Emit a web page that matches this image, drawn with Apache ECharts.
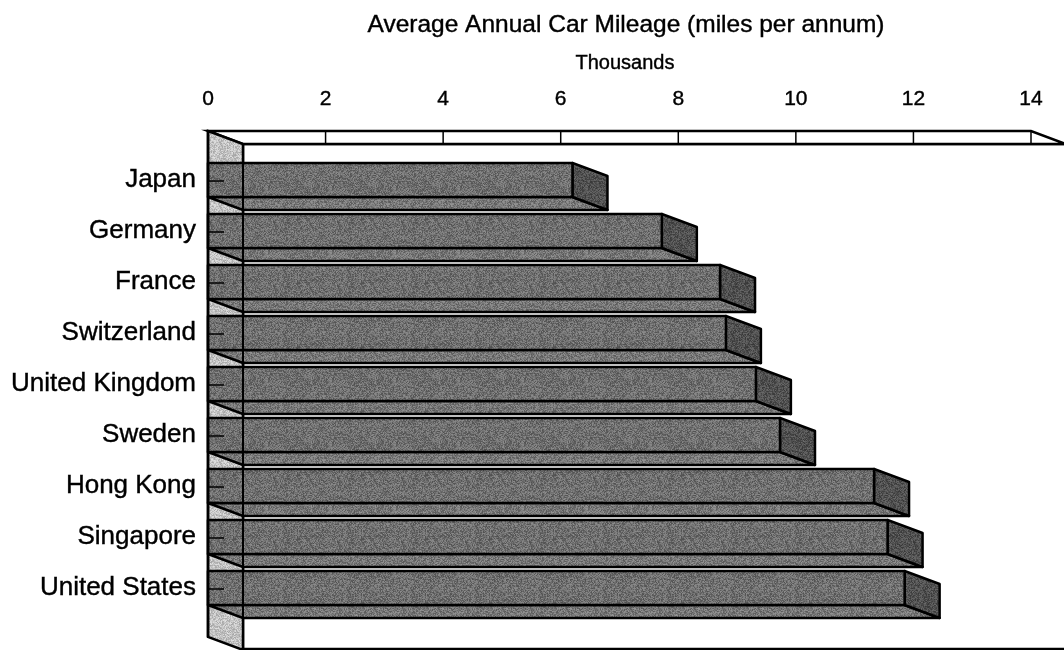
<!DOCTYPE html>
<html>
<head>
<meta charset="utf-8">
<script src="https://cdn.jsdelivr.net/npm/echarts@6/dist/echarts.min.js"></script>
<style>
html,body{margin:0;padding:0;background:#fff;}
#chart{width:1064px;height:650px;}
</style>
</head>
<body>
<div id="chart"></div>
<script>
const categories = ['Japan','Germany','France','Switzerland','United Kingdom','Sweden','Hong Kong','Singapore','United States'];
const mileage = [6.2, 7.72, 8.71, 8.81, 9.32, 9.73, 11.33, 11.56, 11.85];
const xTicks = [0, 2, 4, 6, 8, 10, 12, 14];
const titleText = 'Average Annual Car Mileage (miles per annum)';
const unitText = 'Thousands';

function noise(base, amp) {
  const c = document.createElement('canvas');
  c.width = 64; c.height = 64;
  const ctx = c.getContext('2d');
  const img = ctx.createImageData(64, 64);
  for (let y = 0; y < 64; y++) {
    for (let x = 0; x < 64; x++) {
      let h = (x * 374761393 + y * 668265263) | 0;
      h = (h ^ (h >>> 13)) * 1274126177 | 0;
      h = h ^ (h >>> 16);
      const n = ((h >>> 0) % 1000) / 1000 - 0.5;
      const v = Math.max(0, Math.min(255, Math.round(base + n * amp)));
      const i = (y * 64 + x) * 4;
      img.data[i] = v; img.data[i+1] = v; img.data[i+2] = v; img.data[i+3] = 255;
    }
  }
  ctx.putImageData(img, 0, 0);
  return { image: c, repeat: 'repeat' };
}
const frontFill = noise(110, 60);
const sideFill = noise(80, 50);
const bottomFill = noise(118, 60);
const wallFill = noise(195, 60);

const DX = 35, DY = 13;
const font = 'Liberation Sans, Arial, sans-serif';
const chart = echarts.init(document.getElementById('chart'));

function frameGeom(api) {
  const band = api.size([0, 1])[1];
  const pTop = api.coord([0, 0]);
  const pEnd = api.coord([xTicks[xTicks.length - 1], categories.length - 1]);
  const pad = band / 2 + band * 0.46;
  return { x0: pTop[0], xR: pEnd[0], top: pTop[1] - pad, bot: pEnd[1] + pad };
}

function frameItem(params, api) {
  const g = frameGeom(api);
  const x0 = g.x0, xR = g.xR, top = g.top, bot = g.bot;
  const children = [];
  children.push({ type: 'rect', shape: { x: x0 + DX, y: top + DY, width: xR - x0 + 4, height: bot - top - 1 }, style: { fill: '#fff', stroke: '#000', lineWidth: 2.5 } });
  children.push({ type: 'polygon', shape: { points: [[x0, top], [xR, top], [xR + DX, top + DY], [x0 + DX, top + DY]] }, style: { fill: '#fff', stroke: '#000', lineWidth: 2.5 } });
  xTicks.forEach(function (t) {
    const x = api.coord([t, 0])[0];
    children.push({ type: 'line', shape: { x1: x, y1: top, x2: x, y2: top + DY }, style: { stroke: '#000', lineWidth: 1.5 } });
  });
  children.push({ type: 'polygon', shape: { points: [[x0, top], [x0 + DX, top + DY], [x0 + DX, bot + DY], [x0, bot]] }, style: { fill: wallFill, stroke: '#000', lineWidth: 2.5 } });
  return { type: 'group', children: children };
}

function edgeItem(params, api) {
  const g = frameGeom(api);
  return { type: 'group', children: [
    { type: 'line', shape: { x1: g.x0 + DX, y1: g.top + DY, x2: g.x0 + DX, y2: g.bot + DY }, style: { stroke: '#000', lineWidth: 2 } },
    { type: 'line', shape: { x1: g.x0, y1: g.top, x2: g.x0, y2: g.bot }, style: { stroke: '#000', lineWidth: 2.5 } }
  ] };
}

function barItem(params, api) {
  const i = api.value(1);
  const v = api.value(0);
  const band = api.size([0, 1])[1];
  const p0 = api.coord([0, i]);
  const p1 = api.coord([v, i]);
  const h = band * 0.667;
  const yt = p1[1] - h / 2, yb = p1[1] + h / 2;
  const xa = p0[0], xb = p1[0];
  const st = { stroke: '#000', lineWidth: 2.5, lineJoin: 'round' };
  return {
    type: 'group',
    children: [
      { type: 'polygon', shape: { points: [[xa, yb], [xb, yb], [xb + DX, yb + DY], [xa + DX, yb + DY]] }, style: Object.assign({ fill: bottomFill }, st) },
      { type: 'polygon', shape: { points: [[xb, yt], [xb + DX, yt + DY], [xb + DX, yb + DY], [xb, yb]] }, style: Object.assign({ fill: sideFill }, st) },
      { type: 'rect', shape: { x: xa, y: yt, width: xb - xa, height: h }, style: Object.assign({ fill: frontFill }, st) },
      { type: 'line', shape: { x1: xa, y1: p1[1] + 1, x2: xa + 16, y2: p1[1] + 1 }, style: { stroke: '#000', lineWidth: 1.5 } }
    ]
  };
}

const txt = { fontFamily: font, fontWeight: 'normal', color: '#000', textBorderColor: '#000', textBorderWidth: 0.4 };

chart.setOption({
  animation: false,
  title: [
    { text: titleText, left: 621, top: 8, textAlign: 'center', textStyle: Object.assign({ fontSize: 24.5 }, txt) },
    { text: unitText, left: 620, top: 48, textAlign: 'center', textStyle: Object.assign({ fontSize: 20 }, txt) }
  ],
  grid: { left: 208, top: 154.5, width: 823, height: 459 },
  xAxis: {
    type: 'value', position: 'top', min: 0, max: 14, interval: 2,
    axisLine: { show: false }, axisTick: { show: false }, splitLine: { show: false },
    axisLabel: Object.assign({ margin: 45, fontSize: 21,
      formatter: function (v) { return xTicks.indexOf(v) >= 0 ? String(v) : ''; } }, txt)
  },
  yAxis: {
    type: 'category', inverse: true, data: categories,
    axisLine: { show: false }, axisTick: { show: false },
    axisLabel: Object.assign({ margin: 12, fontSize: 26 }, txt)
  },
  series: [
    { type: 'custom', clip: false, silent: true, z: 1, renderItem: frameItem, data: [[0, 0]] },
    { type: 'custom', clip: false, silent: true, z: 2, renderItem: barItem,
      data: mileage.map(function (v, i) { return [v, i]; }) },
    { type: 'custom', clip: false, silent: true, z: 3, renderItem: edgeItem, data: [[0, 0]] }
  ]
});
</script>
</body>
</html>
